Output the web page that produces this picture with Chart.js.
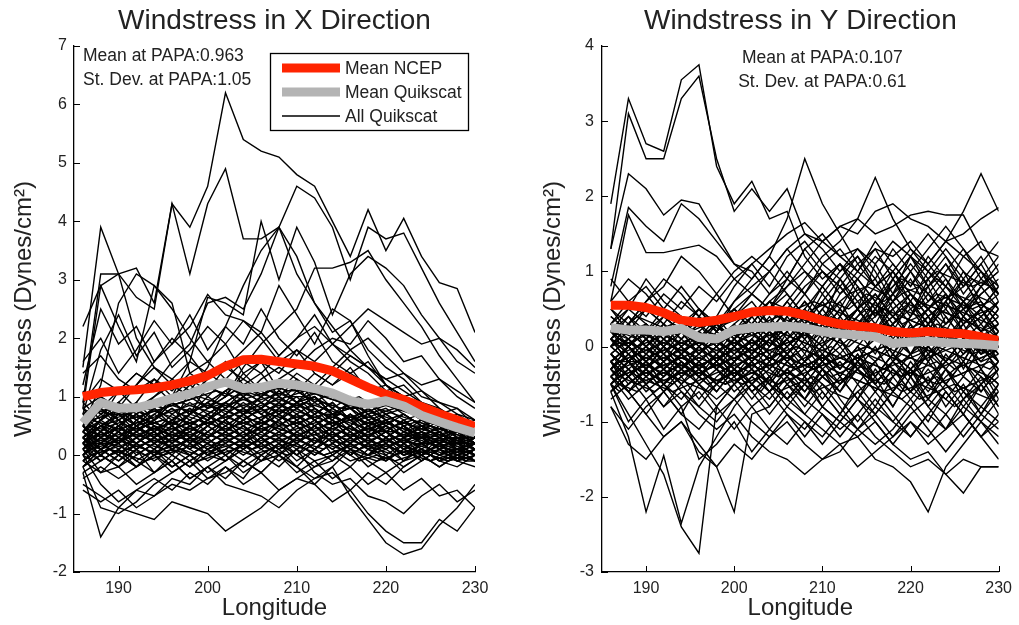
<!DOCTYPE html>
<html><head><meta charset="utf-8">
<script src="https://cdn.jsdelivr.net/npm/chart.js@4.4.0/dist/chart.umd.min.js"></script>
<style>
html,body{margin:0;padding:0;background:#fff;}
#wrap{position:relative;width:1019px;height:625px;background:#fff;}
#cA{position:absolute;left:0;top:0;width:510px;height:625px;}
#cB{position:absolute;left:510px;top:0;width:509px;height:625px;}
</style></head><body>
<div id="wrap"><canvas id="cA" width="510" height="625"></canvas><canvas id="cB" width="509" height="625"></canvas></div>
<script>
// ---------------- data ----------------
const LONGITUDE = [186,188,190,192,194,196,198,200,202,204,206,208,210,212,214,216,218,220,222,224,226,228,230];
const LONGITUDE_ODD = [186,187,189,191,193,195,197,199,201,203,205,207,209,211,213,215,217,219,221,223,225,227,229,230];
const X_TICKS = [190,200,210,220,230];
const XDIR_Y_TICKS = [-2,-1,0,1,2,3,4,5,6,7];
const YDIR_Y_TICKS = [-3,-2,-1,0,1,2,3,4];

const XDIR_NCEP_MEAN = [1.0,1.07,1.1,1.12,1.15,1.2,1.27,1.36,1.52,1.63,1.64,1.6,1.56,1.52,1.44,1.3,1.16,1.04,0.95,0.83,0.71,0.6,0.49];
const XDIR_QSCAT_MEAN = [0.55,0.9,0.8,0.81,0.88,0.97,1.05,1.17,1.25,1.14,1.16,1.23,1.2,1.14,1.06,0.93,0.87,0.93,0.84,0.68,0.57,0.47,0.38];
const YDIR_NCEP_MEAN = [0.55,0.55,0.52,0.45,0.35,0.32,0.35,0.4,0.46,0.48,0.47,0.42,0.35,0.3,0.27,0.25,0.2,0.18,0.2,0.18,0.17,0.13,0.08];
const YDIR_QSCAT_MEAN = [0.25,0.22,0.22,0.2,0.24,0.12,0.1,0.22,0.25,0.26,0.27,0.25,0.2,0.17,0.15,0.13,0.04,0.06,0.07,0.05,0.04,0.03,0.01];

const XDIR_NOTES = ['Mean at PAPA:0.963','St. Dev. at PAPA:1.05'];
const YDIR_NOTES = ['Mean at PAPA:0.107','St. Dev. at PAPA:0.61'];

// X direction, individual Quikscat passes (on LONGITUDE): high excursions
const XDIR_QSCAT_HIGH = [
[1.5,3.9,3.1,3.2,2.6,4.3,3.9,4.6,6.2,5.4,5.2,5.1,4.8,4.6,4.0,3.4,4.2,3.5,4.05,3.4,2.95,2.85,2.1],
[0.8,2.9,3.1,2.7,2.5,4.3,3.1,4.3,4.9,3.7,3.7,3.9,3.1,2.6,2.2,1.8,1.5,1.3,1.1,0.9,0.8,0.6,0.5],
[0.3,0.6,1.1,1.4,1.2,1.6,1.9,2.6,2.7,2.5,3.1,3.9,4.6,4.4,3.9,3.0,3.9,3.7,3.8,3.2,2.6,2.1,1.6],
[0.2,0.5,0.4,0.9,1.3,1.0,1.6,2.7,2.6,2.4,4.0,3.0,3.9,3.3,2.4,3.1,3.4,3.2,2.9,2.4,2.0,1.6,1.4],
[0.9,3.1,3.1,2.0,1.5,1.2,1.0,0.8,0.9,0.7,0.8,0.6,0.9,0.7,0.5,0.6,0.4,0.5,0.3,0.4,0.3,0.2,0.3],
[2.2,2.9,2.2,1.6,2.9,2.6,1.4,1.2,1.0,1.4,1.1,0.9,1.2,0.8,0.6,0.9,0.7,0.4,0.6,0.3,0.5,0.2,0.1],
[0.5,1.2,2.6,3.1,2.9,2.5,2.0,1.6,1.9,1.4,1.6,1.1,0.9,1.0,0.7,0.8,0.5,0.6,0.4,0.5,0.3,0.4,0.2],
[0.1,0.4,0.8,1.2,1.6,1.9,2.2,2.75,2.4,2.3,2.1,2.9,2.4,1.9,2.5,2.3,1.8,1.5,1.3,1.0,0.9,0.7,0.6],
[0.0,0.3,0.2,0.6,0.8,0.5,1.1,1.5,2.2,2.9,3.5,3.9,3.4,2.6,2.1,2.3,1.7,1.2,1.0,0.7,0.5,0.6,0.3],
[0.6,1.0,0.7,0.9,0.6,0.9,0.7,1.2,1.0,1.5,1.9,2.2,2.5,3.2,3.2,3.3,3.5,3.0,2.6,2.2,1.7,1.3,0.9],
[-0.2,0.1,0.3,0.2,0.5,0.4,0.7,0.6,0.9,1.1,1.0,1.3,1.5,1.8,2.0,1.9,2.3,2.0,1.6,1.7,1.3,1.1,0.9],
[0.4,0.2,0.5,0.8,0.6,1.0,1.3,1.1,1.5,1.8,2.1,1.7,2.0,2.4,1.9,2.2,2.5,2.3,2.1,1.9,2.0,1.8,1.5],
[1.2,2.5,1.9,2.2,1.6,2.0,1.7,1.3,1.6,1.2,1.4,1.0,1.3,0.9,1.1,0.8,0.9,0.6,0.7,0.5,0.6,0.4,0.3],
[0.7,1.8,2.4,1.7,2.1,1.5,1.8,2.2,1.9,2.3,2.0,1.6,1.8,1.4,1.2,1.5,1.1,1.2,0.9,0.8,0.6,0.7,0.5],
[1.6,2.0,1.4,1.8,2.3,1.9,2.4,1.8,2.2,1.9,2.5,2.0,1.7,2.1,1.6,1.4,1.6,1.2,1.0,1.1,0.8,0.6,0.4]
];
const XDIR_QSCAT_MID = [
[0.9,1.3,1.1,0.8,1.0,1.2,1.0,1.3,1.5,1.3,1.6,1.4,1.8,1.6,1.9,1.7,1.5,1.3,1.4,1.1,0.9,0.8,0.6],
[0.4,0.8,1.1,1.4,1.2,0.9,1.2,1.0,1.3,1.6,1.4,1.7,2.0,2.2,1.9,1.6,1.4,1.1,1.2,0.9,0.7,0.8,0.5],
[1.1,0.7,0.9,1.2,1.5,1.3,1.1,0.8,1.1,1.3,1.1,1.3,1.1,1.4,1.2,1.4,1.2,1.0,0.8,0.6,0.7,0.5,0.4],
[0.3,0.6,0.9,0.7,1.0,1.3,1.6,1.4,1.2,1.0,1.3,1.5,1.3,1.1,1.4,1.7,1.5,1.2,1.0,0.9,0.7,0.5,0.6],
[1.4,1.7,1.3,1.1,1.3,1.1,1.4,1.6,1.3,1.0,0.8,1.1,1.4,1.2,1.5,1.8,2.0,1.7,1.4,1.2,1.3,1.0,0.8]
];
const XDIR_QSCAT_LOW = [
[0.2,-0.1,0.1,-0.2,0.0,-0.3,-0.1,-0.4,-0.2,-0.5,-0.3,-0.6,-0.4,-0.5,-0.2,-0.7,-1.1,-1.5,-1.7,-1.6,-1.2,-0.9,-0.5],
[0.1,-0.3,-0.2,-0.5,-0.3,-0.1,-0.4,-0.2,0.0,-0.3,-0.1,0.1,-0.2,-0.4,-0.3,-0.6,-1.0,-1.3,-1.5,-1.5,-1.1,-1.3,-0.9],
[-0.5,-0.7,-0.9,-1.0,-1.1,-0.8,-0.9,-1.0,-1.3,-1.1,-0.9,-0.6,-0.4,-0.2,0.0,-0.2,0.1,-0.1,0.2,0.0,0.3,0.1,0.2],
[-0.3,-1.4,-0.9,-0.6,-0.7,-0.4,-0.5,-0.2,-0.4,-0.1,-0.3,0.0,-0.2,0.1,-0.1,0.2,0.0,0.1,-0.1,0.2,0.0,0.1,-0.1],
[0.3,0.0,-0.2,0.1,-0.3,-0.1,-0.4,-0.2,-0.5,-0.6,-0.7,-0.9,-0.6,-0.4,-0.2,0.1,-0.2,0.0,-0.3,-0.1,0.1,-0.1,0.0],
[0.0,-0.5,-0.8,-0.6,-0.4,-0.6,-0.3,-0.5,-0.2,-0.4,0.0,-0.2,0.1,-0.3,-0.5,-0.4,-0.7,-0.8,-1.0,-0.7,-0.5,-0.8,-0.6],
[0.4,0.1,0.2,-0.1,0.1,-0.2,0.0,-0.3,-0.1,0.2,-0.1,0.0,-0.3,-0.1,-0.4,-0.2,-0.5,-0.3,-0.6,-0.4,-0.7,-0.6,-0.9],
[-0.2,-0.9,-1.0,-0.8,-0.5,-0.3,-0.1,0.1,-0.1,0.1,0.3,0.1,0.3,0.1,0.3,0.1,0.0,0.2,0.0,0.1,-0.1,0.0,0.1],
[-0.6,-0.8,-0.6,-0.9,-0.7,-0.5,-0.6,-0.4,-0.3,-0.1,-0.3,0.0,-0.2,-0.5,-0.8,-0.6,-0.3,-0.5,-0.2,0.0,-0.2,0.0,-0.1]
];
const XDIR_QSCAT_CORE = [
[0.3,0.5,0.2,0.4,0.6,0.3,0.5,0.7,0.4,0.6,0.8,0.5,0.7,0.4,0.6,0.3,0.5,0.2,0.4,0.3,0.1,0.3,0.2],
[0.0,0.2,0.4,0.1,0.3,0.5,0.2,0.4,0.6,0.3,0.5,0.7,0.4,0.6,0.3,0.5,0.2,0.4,0.1,0.3,0.2,0.0,0.1],
[0.6,0.4,0.7,0.5,0.3,0.6,0.8,0.6,0.9,0.7,1.0,0.8,1.1,0.9,0.7,0.8,0.6,0.7,0.5,0.6,0.4,0.5,0.3],
[-0.2,0.1,-0.1,0.2,0.0,0.1,0.3,0.0,0.2,0.4,0.1,0.3,0.5,0.2,0.4,0.1,0.3,0.0,0.2,-0.1,0.1,0.0,-0.1],
[0.8,0.5,0.6,0.3,0.5,0.2,0.4,0.6,0.8,1.0,0.7,0.9,0.6,0.8,0.5,0.7,0.4,0.6,0.3,0.4,0.2,0.3,0.1],
[0.2,0.0,0.3,0.6,0.4,0.7,0.5,0.3,0.5,0.7,0.9,1.1,0.9,1.0,0.8,0.6,0.7,0.5,0.3,0.5,0.4,0.2,0.0],
[0.4,0.7,0.9,0.6,0.8,0.5,0.7,0.9,1.1,0.8,0.6,0.8,1.0,0.7,0.9,0.6,0.4,0.6,0.7,0.5,0.3,0.4,0.2],
[-0.1,-0.3,0.0,-0.2,0.1,-0.1,0.2,0.0,-0.1,0.1,0.3,0.1,0.2,0.0,0.2,0.4,0.1,0.2,0.0,0.1,-0.1,0.0,0.1],
[0.5,0.2,0.0,0.3,0.1,0.4,0.2,0.5,0.7,0.5,0.3,0.6,0.8,1.0,0.7,0.5,0.8,0.6,0.4,0.6,0.5,0.3,0.4],
[0.1,0.3,0.6,0.8,0.5,0.3,0.1,0.3,0.0,0.2,0.5,0.3,0.0,0.2,0.5,0.7,0.5,0.3,0.5,0.2,0.0,0.2,0.3],
[0.7,0.9,0.6,0.4,0.7,0.9,0.7,1.0,0.8,1.1,0.9,0.7,0.9,1.2,1.0,0.8,0.9,0.7,0.8,0.6,0.5,0.6,0.4],
[-0.3,-0.1,0.1,-0.1,-0.3,0.0,-0.2,0.1,0.3,0.1,-0.1,0.2,0.0,0.3,0.1,-0.1,0.0,0.2,-0.1,0.0,0.2,-0.1,-0.2],
[0.3,0.1,0.4,0.2,0.0,0.2,0.5,0.3,0.6,0.4,0.2,0.4,0.2,0.5,0.7,0.4,0.2,0.4,0.2,0.4,0.1,0.3,0.1],
[0.0,0.4,0.2,0.5,0.7,0.5,0.2,0.0,0.3,0.5,0.2,0.0,0.3,0.1,0.4,0.2,0.5,0.3,0.0,0.2,0.4,0.1,0.0],
[0.9,0.6,0.8,0.5,0.6,0.8,0.6,0.8,1.0,1.2,1.0,1.2,0.9,1.1,0.8,1.0,0.7,0.8,0.6,0.7,0.5,0.4,0.3],
[0.2,0.5,0.3,0.0,0.2,0.4,0.6,0.4,0.2,0.4,0.6,0.4,0.6,0.3,0.1,0.3,0.5,0.3,0.5,0.3,0.2,0.4,0.2],
[-0.1,0.2,0.5,0.3,0.4,0.1,0.3,0.2,0.4,0.2,0.4,0.6,0.3,0.5,0.2,0.0,0.2,0.1,0.3,0.0,0.1,-0.1,0.0],
[0.6,0.3,0.5,0.7,0.5,0.3,0.4,0.6,0.4,0.7,0.5,0.8,0.6,0.4,0.6,0.4,0.6,0.4,0.2,0.3,0.5,0.3,0.1],
[0.4,0.1,-0.1,0.1,0.3,0.5,0.3,0.1,0.2,0.0,0.2,0.4,0.2,0.4,0.0,0.2,0.0,0.3,0.1,-0.1,0.1,0.2,0.0],
[0.1,0.3,0.1,0.3,0.1,0.3,0.1,0.4,0.6,0.8,0.6,0.4,0.6,0.8,0.6,0.3,0.5,0.3,0.1,0.3,0.1,0.3,0.1],
[0.5,0.8,0.6,0.8,0.9,0.7,0.9,0.7,0.5,0.7,0.9,0.7,0.5,0.7,0.9,0.6,0.8,0.5,0.7,0.5,0.6,0.3,0.2],
[-0.2,0.0,-0.2,0.0,0.2,0.0,-0.2,0.0,0.1,-0.1,0.1,-0.1,0.1,-0.1,0.0,0.2,0.0,-0.1,0.1,0.0,-0.2,0.0,-0.1],
[0.2,0.6,0.8,0.5,0.2,0.4,0.7,0.9,0.6,0.3,0.5,0.7,0.9,0.6,0.3,0.5,0.7,0.4,0.6,0.4,0.2,0.5,0.3],
[0.3,0.0,0.2,0.4,0.2,0.0,0.3,0.5,0.3,0.5,0.3,0.1,0.4,0.2,0.5,0.3,0.1,0.3,0.5,0.2,0.3,0.1,0.2],
[0.7,0.4,0.2,0.5,0.8,0.6,0.3,0.6,0.8,0.6,0.8,1.0,0.8,0.6,0.8,0.6,0.3,0.5,0.3,0.5,0.3,0.2,0.4],
[0.0,0.2,0.0,-0.2,0.0,0.3,0.1,-0.1,0.1,0.3,0.1,0.3,0.1,0.3,0.1,0.3,0.1,0.0,-0.2,0.0,0.2,0.0,0.2],
[0.4,0.6,0.4,0.2,0.4,0.6,0.8,0.5,0.7,0.9,0.7,0.5,0.7,0.5,0.3,0.5,0.3,0.5,0.3,0.1,0.3,0.5,0.3],
[0.2,0.1,0.3,0.5,0.3,0.1,0.0,0.2,0.4,0.2,0.0,0.2,0.4,0.6,0.4,0.2,0.4,0.2,0.0,0.1,0.0,0.1,0.0],
[0.8,1.0,0.8,0.6,0.4,0.6,0.4,0.2,0.4,0.6,0.4,0.6,0.8,0.6,0.4,0.7,0.5,0.7,0.5,0.3,0.4,0.2,0.3],
[0.1,-0.1,0.1,0.3,0.5,0.2,0.0,0.2,0.0,0.2,0.4,0.2,-0.1,0.1,0.3,0.0,0.2,-0.1,0.1,0.2,0.0,-0.1,0.1],
[0.3,0.5,0.7,0.4,0.6,0.8,0.5,0.3,0.5,0.3,0.6,0.9,0.7,0.9,1.1,0.9,0.6,0.4,0.2,0.4,0.2,0.1,0.2],
[-0.4,-0.2,-0.4,-0.2,0.0,-0.2,0.0,0.2,0.0,-0.2,0.0,0.2,0.0,-0.2,-0.1,0.1,-0.1,-0.3,-0.1,0.1,-0.1,-0.2,0.0],
[0.5,0.3,0.5,0.2,0.4,0.2,0.5,0.7,0.9,0.7,0.4,0.6,0.3,0.5,0.7,0.5,0.3,0.6,0.4,0.2,0.4,0.2,0.1],
[0.6,0.8,0.5,0.7,0.4,0.1,0.3,0.1,0.3,0.1,0.3,0.5,0.3,0.1,0.3,0.5,0.3,0.1,0.3,0.1,-0.1,0.1,0.3],
[0.2,0.4,0.2,0.4,0.6,0.9,0.7,0.9,0.7,1.0,1.2,1.0,0.8,1.0,0.7,0.9,0.6,0.4,0.6,0.4,0.6,0.4,0.2],
[-0.1,0.1,0.3,0.1,-0.1,0.1,-0.1,0.1,0.3,0.1,0.3,0.0,0.2,0.0,0.2,0.0,0.2,0.4,0.2,0.0,0.2,0.1,-0.1]
];
// X direction: further core passes sampled on LONGITUDE_ODD
const XDIR_QSCAT_CORE_ODD = [
[0.6,0.7,0.8,0.6,0.7,0.8,0.9,1.0,1.1,1.0,0.9,1.1,1.0,1.0,0.9,0.8,0.8,0.7,0.8,0.6,0.5,0.4,0.4,0.3],
[0.4,0.5,0.3,0.5,0.6,0.5,0.7,0.8,0.7,0.9,1.0,0.8,0.9,0.8,0.7,0.7,0.6,0.5,0.6,0.5,0.4,0.3,0.3,0.2],
[0.1,0.2,0.3,0.2,0.1,0.3,0.4,0.3,0.5,0.4,0.6,0.5,0.4,0.5,0.3,0.4,0.3,0.2,0.3,0.2,0.2,0.1,0.0,0.1],
[0.7,0.8,0.6,0.7,0.6,0.7,0.6,0.8,0.9,0.8,0.7,0.9,1.0,1.1,1.0,0.9,0.7,0.8,0.6,0.5,0.5,0.4,0.3,0.3],
[0.2,0.0,0.1,0.0,0.2,0.1,0.2,0.3,0.2,0.3,0.4,0.3,0.2,0.3,0.2,0.1,0.2,0.1,0.0,0.1,0.0,-0.1,0.0,-0.1],
[0.5,0.4,0.6,0.4,0.3,0.4,0.5,0.6,0.5,0.7,0.6,0.7,0.6,0.7,0.5,0.6,0.5,0.4,0.5,0.4,0.3,0.2,0.3,0.2],
[0.3,0.4,0.2,0.3,0.5,0.4,0.3,0.5,0.6,0.5,0.7,0.8,0.7,0.6,0.7,0.5,0.4,0.5,0.3,0.4,0.2,0.3,0.2,0.1],
[0.0,0.1,-0.1,0.1,0.0,0.1,0.2,0.1,0.2,0.1,0.2,0.1,0.2,0.1,0.3,0.2,0.1,0.2,0.1,0.0,0.1,0.0,0.1,0.0],
[0.8,0.7,0.9,0.8,0.7,0.8,0.9,0.8,1.0,1.2,1.1,1.0,1.1,1.2,1.0,0.9,1.0,0.8,0.7,0.6,0.5,0.4,0.4,0.3],
[0.4,0.3,0.4,0.2,0.4,0.3,0.2,0.4,0.3,0.2,0.3,0.5,0.4,0.3,0.4,0.3,0.4,0.3,0.2,0.3,0.1,0.2,0.1,0.0],
[0.2,0.3,0.5,0.4,0.5,0.6,0.5,0.6,0.8,0.7,0.8,0.6,0.8,0.7,0.6,0.7,0.5,0.6,0.4,0.3,0.4,0.3,0.2,0.2],
[-0.1,0.0,0.1,0.2,0.1,0.0,0.1,0.0,0.1,0.2,0.1,0.3,0.2,0.1,0.0,0.1,0.0,-0.1,0.0,0.1,0.0,-0.1,0.0,0.1],
[0.6,0.5,0.4,0.5,0.4,0.5,0.6,0.5,0.7,0.6,0.5,0.6,0.5,0.6,0.8,0.7,0.6,0.7,0.5,0.4,0.3,0.4,0.3,0.2],
[0.3,0.2,0.2,0.4,0.3,0.2,0.3,0.2,0.4,0.3,0.5,0.4,0.6,0.4,0.5,0.4,0.2,0.3,0.2,0.1,0.2,0.1,0.1,0.0],
[0.5,0.6,0.7,0.5,0.6,0.5,0.7,0.6,0.8,0.9,0.8,0.9,0.8,0.9,0.8,0.6,0.7,0.6,0.5,0.6,0.4,0.5,0.3,0.4],
[0.1,0.2,0.0,0.1,0.3,0.2,0.1,0.2,0.0,0.2,0.1,0.2,0.3,0.2,0.1,0.3,0.2,0.1,0.2,0.1,-0.1,0.0,-0.1,0.0],
[0.7,0.6,0.5,0.6,0.8,0.7,0.8,0.7,0.6,0.8,0.9,1.0,0.9,0.8,0.9,0.8,0.9,0.7,0.6,0.5,0.4,0.3,0.3,0.2],
[0.2,0.4,0.3,0.4,0.2,0.3,0.4,0.6,0.4,0.5,0.4,0.5,0.5,0.6,0.4,0.5,0.3,0.4,0.4,0.3,0.3,0.2,0.2,0.1],
[0.4,0.6,0.5,0.3,0.5,0.6,0.5,0.4,0.6,0.7,0.9,0.7,0.8,0.9,0.7,0.6,0.6,0.5,0.6,0.4,0.5,0.3,0.2,0.3],
[0.0,-0.1,0.1,0.0,-0.1,0.0,0.1,-0.1,0.0,0.1,0.0,0.1,0.0,0.2,0.0,0.1,-0.1,0.0,-0.1,0.0,-0.1,0.1,-0.1,-0.1],
[0.6,0.8,0.7,0.8,0.9,0.8,0.9,1.0,0.9,1.1,1.0,1.1,1.2,1.0,1.1,0.9,0.8,0.9,0.8,0.7,0.6,0.5,0.4,0.4],
[0.3,0.1,0.2,0.3,0.4,0.2,0.3,0.4,0.3,0.4,0.2,0.3,0.4,0.3,0.2,0.4,0.3,0.2,0.3,0.2,0.1,0.2,0.1,0.2],
[0.5,0.3,0.4,0.6,0.4,0.5,0.4,0.5,0.6,0.5,0.6,0.7,0.6,0.5,0.6,0.5,0.4,0.5,0.3,0.4,0.2,0.3,0.2,0.3],
[0.1,0.3,0.2,0.1,0.2,0.4,0.3,0.2,0.4,0.3,0.2,0.4,0.3,0.4,0.3,0.2,0.3,0.4,0.2,0.3,0.2,0.0,0.1,0.0],
[0.8,0.6,0.7,0.7,0.8,0.9,0.8,0.9,0.8,1.0,1.1,1.2,1.1,1.1,1.0,1.0,0.9,0.8,0.9,0.7,0.6,0.5,0.5,0.4]
];

// Y direction: high excursions
const YDIR_QSCAT_HIGH = [
[1.9,3.3,2.7,2.6,3.55,3.75,2.4,1.9,2.2,1.7,1.8,1.2,0.9,1.1,0.7,0.9,0.5,0.7,0.4,0.6,0.3,0.5,0.2],
[1.3,3.1,2.5,2.5,3.3,3.6,2.5,1.8,2.1,1.8,2.1,1.5,1.3,1.0,1.2,0.8,0.6,0.9,0.5,0.3,0.5,0.2,0.4],
[1.3,2.3,2.1,1.75,1.95,1.9,1.5,1.1,1.0,0.7,0.9,1.3,1.5,1.2,1.0,0.8,1.0,0.7,0.5,0.8,0.6,0.4,0.6],
[0.8,1.85,1.6,1.4,1.9,1.7,1.4,1.1,0.9,1.2,0.9,0.7,1.0,0.8,0.5,0.7,0.4,0.6,0.3,0.5,0.2,0.4,0.1],
[0.6,1.75,1.25,1.25,1.3,1.35,1.2,0.9,0.7,0.5,0.7,0.4,0.6,0.3,0.5,0.2,0.4,0.1,0.3,0.0,0.2,-0.1,0.1],
[0.1,-0.2,0.0,0.3,0.1,0.4,0.2,0.6,0.9,1.2,1.7,2.5,1.9,1.5,1.1,0.8,1.0,0.7,0.5,0.7,0.4,0.2,0.3],
[-0.3,0.0,-0.2,0.1,-0.1,0.2,0.0,0.3,0.5,0.3,0.6,0.9,1.2,1.4,1.7,2.25,1.7,1.3,1.0,0.8,0.5,0.6,0.3],
[0.2,0.0,0.3,0.1,-0.1,0.1,0.3,0.1,0.4,0.6,0.5,0.8,1.0,0.8,1.1,1.3,1.2,1.4,1.1,1.4,1.8,2.3,1.8],
[0.0,0.3,0.1,0.4,0.2,0.5,0.3,0.6,0.8,1.0,1.3,1.5,1.4,1.6,1.7,1.5,1.6,1.75,1.8,1.75,1.75,1.3,1.2],
[0.4,0.2,0.5,0.3,0.6,0.4,0.2,0.5,0.3,0.6,0.8,1.1,1.4,1.6,1.5,1.8,1.9,1.7,1.6,1.4,1.2,1.0,0.8],
[0.3,0.6,0.4,0.7,0.5,0.8,0.6,0.9,1.1,1.3,1.5,1.65,1.4,1.2,1.3,1.1,1.4,1.2,1.0,1.3,1.0,0.8,1.0],
[0.1,0.4,0.2,0.5,0.3,0.1,0.3,0.5,0.7,0.5,0.8,1.0,0.8,1.1,0.9,1.2,1.0,1.3,1.1,1.4,1.5,1.7,1.85]
];
const YDIR_QSCAT_UPPER = [
[0.2,0.5,0.9,0.6,0.4,0.1,0.4,0.8,1.1,0.8,1.2,1.4,1.1,0.9,1.2,0.9,1.3,1.0,1.3,1.6,1.3,1.0,0.7],
[0.6,0.9,0.7,0.4,0.2,0.5,0.3,0.1,0.4,0.7,1.0,0.7,1.1,1.3,1.0,1.4,1.1,0.8,1.1,0.8,1.2,1.4,1.0],
[0.9,0.6,0.8,0.5,0.8,0.5,0.2,0.5,0.2,0.5,0.9,1.3,1.0,0.7,1.0,1.3,0.9,1.2,1.5,1.2,0.9,1.2,0.8],
[0.0,0.3,0.6,0.9,0.7,0.4,0.7,0.4,0.7,1.0,1.3,1.0,0.7,1.0,1.3,1.0,0.6,1.0,0.7,1.0,1.3,0.9,1.2],
[0.5,0.3,0.6,0.8,1.2,1.0,0.7,1.0,1.2,1.0,0.7,0.4,0.8,1.1,0.8,0.5,0.8,1.1,0.8,1.1,0.8,1.1,1.4]
];
const YDIR_QSCAT_LOW = [
[-0.5,-0.9,-1.3,-1.7,-2.4,-2.75,-0.8,-0.5,-0.3,-0.5,-0.2,-0.4,-0.1,-0.3,0.0,-0.2,0.1,-0.1,0.0,0.2,-0.1,0.1,-0.2],
[-0.6,-1.2,-2.2,-1.45,-2.35,-1.6,-1.2,-0.8,-0.5,-0.7,-0.4,-0.6,-0.3,-0.5,-0.2,-0.4,-0.1,-0.3,0.0,-0.2,0.1,-0.1,0.0],
[-0.3,-0.6,-0.9,-1.2,-1.0,-1.4,-1.6,-2.2,-0.9,-0.8,-0.5,-0.7,-0.4,-0.6,-0.3,-0.5,-0.2,-0.4,-0.1,-0.3,0.0,-0.2,-0.1],
[-0.2,0.0,-0.3,-0.1,-0.4,-0.2,-0.5,-0.3,-0.6,-0.4,-0.7,-0.9,-1.1,-1.3,-1.2,-1.5,-1.6,-1.8,-2.2,-1.6,-1.3,-1.0,-1.2],
[0.1,-0.2,0.0,-0.3,-0.1,-0.4,-0.2,-0.5,-0.3,-0.6,-0.4,-0.7,-0.9,-1.1,-0.9,-1.2,-1.4,-1.6,-1.5,-1.7,-1.95,-1.6,-1.6],
[-0.4,-0.7,-0.5,-0.8,-0.6,-0.9,-1.1,-0.9,-1.2,-1.4,-1.5,-1.7,-1.5,-1.4,-1.1,-0.9,-1.2,-0.9,-0.7,-0.9,-0.6,-0.8,-0.5],
[0.2,-0.1,0.1,-0.2,0.0,-0.3,-0.1,-0.4,-0.2,-0.5,-0.7,-0.5,-0.8,-1.0,-1.2,-1.0,-1.3,-1.5,-1.4,-1.7,-1.5,-1.6,-1.6],
[-0.6,-0.4,-0.7,-0.5,-0.8,-0.6,-0.9,-0.7,-1.0,-1.2,-1.0,-1.3,-1.5,-1.3,-1.6,-1.4,-1.2,-1.0,-1.3,-1.1,-0.9,-1.2,-1.0],
[-0.8,-1.3,-1.5,-1.2,-1.0,-1.3,-1.6,-1.3,-1.5,-1.2,-0.9,-1.1,-0.8,-1.0,-0.7,-0.9,-0.6,-0.8,-0.5,-0.7,-0.4,-0.6,-0.3],
[-0.5,-1.0,-0.7,-1.1,-0.8,-1.5,-1.3,-1.0,-1.4,-1.1,-1.3,-1.0,-1.2,-0.9,-1.1,-0.8,-1.0,-1.2,-0.9,-1.1,-0.8,-1.0,-1.3],
[-0.3,-0.6,-0.9,-0.6,-0.9,-0.5,-0.8,-0.5,-0.8,-1.1,-0.8,-1.0,-1.3,-1.0,-0.7,-1.0,-1.3,-1.0,-1.2,-0.9,-1.2,-0.9,-1.1],
[-0.8,-1.1,-0.8,-0.6,-0.9,-1.1,-0.8,-1.1,-0.8,-0.6,-0.9,-1.2,-0.9,-1.2,-0.9,-0.6,-0.9,-1.2,-0.9,-0.6,-0.9,-1.2,-1.5],
[-0.4,-0.2,-0.5,-0.8,-0.5,-0.8,-1.0,-0.7,-0.5,-0.8,-0.5,-0.8,-0.5,-0.8,-1.1,-1.3,-1.1,-0.8,-1.1,-1.4,-1.1,-0.8,-1.0]
];
const YDIR_QSCAT_CORE = [
[0.0,-0.2,0.1,-0.1,0.2,0.0,-0.2,0.1,0.3,0.0,0.2,-0.1,0.3,0.6,0.2,0.5,0.1,0.4,0.8,0.3,0.6,0.2,0.5],
[-0.3,-0.1,-0.4,-0.2,0.0,-0.3,-0.5,-0.2,0.0,-0.3,-0.1,0.2,-0.2,0.1,-0.3,0.0,-0.4,-0.1,-0.5,-0.2,0.1,-0.3,-0.6],
[0.2,0.4,0.1,0.3,0.0,0.2,0.4,0.1,-0.1,0.2,0.5,0.2,0.0,0.4,0.8,0.4,0.9,0.5,0.2,0.6,1.0,0.6,0.3],
[-0.5,-0.3,-0.6,-0.4,-0.2,-0.5,-0.3,-0.6,-0.4,-0.1,-0.4,-0.7,-0.3,-0.6,-0.2,-0.5,-0.8,-0.4,-0.7,-0.3,-0.6,-0.9,-0.5],
[0.1,-0.1,-0.3,0.0,0.2,-0.1,0.1,0.3,0.0,0.3,0.6,0.3,0.7,0.4,0.1,0.5,0.9,0.6,1.0,0.7,0.4,0.8,0.5],
[-0.2,0.0,0.2,-0.1,-0.3,-0.1,0.1,-0.2,0.1,0.4,0.1,-0.2,0.1,-0.3,0.0,-0.4,-0.1,0.3,-0.1,-0.5,-0.2,0.2,-0.2],
[0.3,0.1,-0.1,0.2,0.4,0.1,-0.2,0.0,0.2,0.5,0.3,0.6,0.3,0.9,0.5,1.1,0.7,1.2,0.8,1.1,0.7,1.0,0.6],
[-0.6,-0.4,-0.2,-0.5,-0.7,-0.4,-0.6,-0.3,-0.5,-0.2,-0.5,-0.3,-0.6,-0.9,-0.5,-0.8,-0.4,-0.7,-1.0,-0.6,-0.9,-0.5,-0.8],
[0.0,0.2,0.0,0.2,-0.1,0.1,0.3,0.5,0.2,0.0,0.3,0.1,0.4,0.2,0.5,0.2,0.6,0.3,0.0,0.4,0.1,-0.2,0.1],
[-0.1,-0.4,-0.2,-0.5,-0.3,-0.1,-0.3,-0.1,-0.3,-0.6,-0.3,-0.5,-0.2,0.1,-0.2,0.2,-0.1,-0.4,0.0,-0.3,-0.7,-0.4,-0.8],
[0.4,0.2,0.3,0.1,0.3,0.5,0.2,0.4,0.6,0.3,0.0,0.3,0.6,0.9,0.6,0.3,0.7,1.0,0.6,0.9,0.5,0.8,1.1],
[-0.2,-0.5,-0.3,-0.6,-0.4,-0.7,-0.4,-0.2,-0.5,-0.3,0.0,-0.3,-0.1,-0.4,-0.7,-0.3,-0.6,-0.2,-0.5,-0.1,-0.4,0.0,-0.3],
[0.1,0.3,0.0,-0.2,0.1,0.3,0.0,0.2,0.4,0.1,0.4,0.7,0.4,0.1,0.3,0.6,0.2,-0.1,0.3,0.0,0.4,0.1,-0.1],
[-0.4,-0.1,-0.3,0.0,-0.2,-0.4,-0.1,-0.4,-0.2,-0.5,-0.2,0.0,-0.3,-0.1,0.2,-0.1,0.3,-0.1,0.2,-0.2,0.1,-0.3,0.0],
[0.2,0.0,-0.2,-0.4,-0.1,-0.3,-0.5,-0.2,0.1,-0.2,0.2,0.5,0.8,0.5,0.9,0.6,0.3,0.6,0.3,0.7,0.3,0.5,0.2],
[-0.3,-0.6,-0.4,-0.2,-0.5,-0.2,0.0,-0.3,-0.6,-0.4,-0.7,-0.4,-0.8,-0.5,-0.3,-0.6,-0.3,-0.6,-0.2,-0.5,-0.8,-0.5,-0.9],
[0.1,0.0,0.2,0.4,0.2,-0.1,0.2,0.0,-0.2,0.1,-0.1,0.2,0.5,0.2,0.5,0.8,1.1,0.8,1.2,0.9,0.6,0.9,0.7],
[-0.1,0.1,-0.2,0.0,-0.3,0.0,-0.2,0.0,0.2,-0.1,-0.4,-0.1,-0.4,-0.2,-0.5,-0.2,-0.6,-0.3,-0.7,-0.4,-0.2,-0.6,-0.3],
[0.3,0.0,0.2,0.0,0.3,0.1,0.3,0.0,0.3,0.6,0.3,0.5,0.2,0.5,0.2,0.5,0.2,0.6,0.3,0.6,0.9,0.5,0.8],
[-0.5,-0.2,-0.5,-0.3,-0.6,-0.8,-0.5,-0.7,-0.4,-0.6,-0.3,-0.6,-0.3,-0.7,-1.0,-0.7,-1.0,-0.7,-0.4,-0.8,-0.5,-0.9,-0.6],
[0.0,0.3,0.1,-0.1,0.1,-0.1,0.1,-0.1,0.1,-0.1,0.1,0.4,0.1,0.4,0.7,0.4,0.7,0.4,0.7,0.4,0.1,0.3,0.0],
[-0.2,-0.4,-0.1,-0.3,-0.1,-0.3,-0.1,-0.4,-0.1,-0.4,-0.1,-0.4,-0.1,-0.4,-0.1,-0.5,-0.2,0.1,-0.2,0.1,-0.2,0.2,-0.1],
[0.5,0.2,0.0,0.2,0.0,0.2,0.0,0.2,0.5,0.2,0.5,0.2,0.5,0.8,0.5,0.2,-0.1,0.2,0.5,0.2,0.6,0.3,0.6],
[-0.7,-0.5,-0.3,-0.6,-0.3,-0.5,-0.7,-0.5,-0.2,-0.5,-0.8,-0.5,-0.2,-0.5,-0.2,-0.5,-0.2,-0.5,-0.8,-1.1,-0.7,-1.0,-0.7],
[0.1,-0.2,0.0,-0.2,0.0,-0.2,0.0,-0.2,0.0,0.2,0.0,0.2,0.0,-0.3,0.0,0.3,0.0,0.4,0.9,0.5,0.9,0.5,0.8],
[-0.3,0.0,-0.3,0.0,-0.3,0.0,-0.3,0.0,-0.3,0.0,0.3,0.0,0.3,0.0,-0.3,-0.6,-0.3,-0.6,-0.3,-0.6,-0.9,-1.2,-0.9],
[0.2,0.1,0.3,0.1,0.3,0.1,-0.1,0.1,-0.1,0.1,0.3,0.6,0.3,0.7,0.9,0.6,0.9,1.2,0.9,1.2,0.8,1.1,0.7],
[-0.1,-0.3,-0.5,-0.3,-0.5,-0.3,-0.1,-0.3,-0.1,0.2,-0.1,0.2,-0.1,0.2,0.5,0.2,0.5,0.1,0.4,0.0,0.3,-0.1,0.2],
[0.0,0.1,-0.1,0.1,-0.1,0.1,-0.1,0.2,-0.1,0.2,-0.1,-0.4,-0.1,-0.4,-0.1,-0.4,-0.8,-0.4,-0.8,-0.5,-0.2,-0.5,-0.2],
[-0.4,-0.6,-0.3,-0.5,-0.2,-0.4,-0.2,-0.4,-0.7,-0.4,-0.7,-0.4,-0.7,-0.4,-0.7,-0.4,-0.1,-0.4,-0.1,0.2,-0.1,0.2,0.5],
[0.3,0.5,0.3,0.0,0.3,0.0,0.3,0.0,0.3,0.0,0.4,0.1,0.4,0.1,0.4,0.7,0.4,0.7,0.4,0.1,0.4,0.7,0.9],
[-0.2,0.0,-0.2,-0.4,-0.2,-0.4,-0.2,0.1,-0.2,0.1,-0.2,0.1,-0.2,0.1,-0.2,0.2,-0.2,0.2,-0.2,0.2,-0.3,0.1,-0.4],
[0.1,0.3,0.5,0.3,0.1,0.3,0.1,-0.1,0.1,-0.2,0.1,-0.2,0.2,0.5,0.2,0.6,1.0,0.6,0.2,0.6,0.2,0.5,0.1],
[-0.6,-0.3,-0.1,-0.3,-0.1,-0.3,-0.6,-0.3,-0.6,-0.9,-0.6,-0.9,-0.6,-0.9,-0.6,-0.9,-0.6,-0.3,-0.6,-0.3,-0.6,-0.3,-0.7]
];
// Y direction: further core passes sampled on LONGITUDE_ODD
const YDIR_QSCAT_CORE_ODD = [
[-0.1,-0.2,-0.1,0.0,-0.2,-0.1,-0.3,-0.2,-0.1,0.0,-0.1,0.1,0.0,0.1,0.2,0.1,0.3,0.2,0.1,0.3,0.2,0.4,0.3,0.2],
[-0.4,-0.3,-0.5,-0.4,-0.3,-0.4,-0.2,-0.3,-0.4,-0.3,-0.2,-0.3,-0.1,-0.2,-0.3,-0.1,-0.2,-0.4,-0.3,-0.2,-0.4,-0.3,-0.2,-0.3],
[0.1,0.0,0.1,-0.1,0.0,0.1,0.0,-0.1,0.1,0.2,0.1,0.3,0.2,0.4,0.3,0.5,0.4,0.6,0.5,0.7,0.6,0.5,0.6,0.7],
[-0.2,-0.1,-0.3,-0.2,-0.1,-0.2,-0.4,-0.3,-0.2,-0.1,-0.2,0.0,-0.1,0.0,-0.2,-0.1,0.0,0.1,0.0,-0.1,0.1,0.0,-0.1,0.0],
[-0.5,-0.6,-0.4,-0.5,-0.6,-0.5,-0.4,-0.5,-0.3,-0.4,-0.5,-0.4,-0.6,-0.5,-0.4,-0.5,-0.6,-0.5,-0.7,-0.6,-0.5,-0.6,-0.4,-0.5],
[0.0,0.1,-0.1,0.0,0.1,0.0,-0.1,0.0,0.1,0.0,0.2,0.1,0.3,0.2,0.4,0.6,0.5,0.7,0.8,0.6,0.7,0.9,0.8,0.7],
[-0.3,-0.2,-0.2,-0.3,-0.1,-0.2,-0.3,-0.1,0.0,-0.1,0.0,-0.2,-0.1,0.1,0.0,0.2,0.1,0.0,0.2,0.1,0.0,0.2,0.1,0.0],
[0.2,0.3,0.2,0.1,0.3,0.2,0.1,0.2,0.3,0.2,0.3,0.2,0.4,0.3,0.2,0.4,0.5,0.3,0.4,0.6,0.5,0.4,0.5,0.4],
[-0.6,-0.5,-0.6,-0.4,-0.5,-0.3,-0.4,-0.5,-0.4,-0.6,-0.3,-0.4,-0.3,-0.5,-0.4,-0.2,-0.3,-0.4,-0.2,-0.3,-0.1,-0.2,-0.3,-0.2],
[-0.1,0.0,-0.2,-0.1,0.0,-0.1,0.0,0.1,0.0,-0.1,0.0,0.1,0.0,-0.1,0.1,0.0,0.2,0.4,0.3,0.5,0.4,0.3,0.5,0.4],
[-0.3,-0.4,-0.3,-0.5,-0.4,-0.3,-0.5,-0.4,-0.2,-0.3,-0.4,-0.2,-0.3,-0.1,-0.2,-0.3,-0.1,-0.2,0.0,-0.1,-0.2,0.0,-0.1,-0.2],
[0.3,0.2,0.4,0.3,0.2,0.3,0.4,0.3,0.4,0.5,0.4,0.5,0.6,0.5,0.7,0.8,0.7,0.9,0.8,1.0,0.9,0.8,0.9,1.0],
[-0.2,-0.3,-0.1,-0.2,-0.3,-0.2,-0.1,-0.2,-0.3,-0.2,-0.4,-0.3,-0.2,-0.4,-0.3,-0.4,-0.5,-0.3,-0.4,-0.5,-0.4,-0.3,-0.5,-0.4],
[0.0,-0.1,0.0,0.1,0.0,-0.1,0.1,0.0,-0.1,0.1,0.2,0.1,0.2,0.1,0.3,0.2,0.1,0.2,0.3,0.2,0.1,0.2,0.1,0.2],
[-0.4,-0.5,-0.3,-0.4,-0.2,-0.3,-0.2,-0.4,-0.3,-0.1,-0.2,-0.1,-0.3,-0.2,-0.1,0.0,-0.1,0.1,0.0,-0.1,0.0,0.1,0.2,0.1],
[0.1,0.2,0.1,0.2,0.3,0.2,0.3,0.2,0.1,0.3,0.2,0.4,0.3,0.5,0.4,0.3,0.5,0.4,0.6,0.5,0.4,0.6,0.5,0.6],
[-0.2,-0.1,-0.3,-0.1,-0.2,-0.3,-0.2,-0.1,-0.2,-0.3,-0.1,-0.2,-0.3,-0.2,-0.1,-0.2,-0.3,-0.1,-0.2,-0.1,-0.3,-0.2,-0.1,-0.2],
[-0.5,-0.4,-0.5,-0.6,-0.4,-0.5,-0.6,-0.4,-0.5,-0.4,-0.6,-0.5,-0.4,-0.6,-0.7,-0.5,-0.6,-0.7,-0.5,-0.6,-0.8,-0.6,-0.7,-0.6],
[0.0,0.1,0.0,-0.1,0.0,0.1,0.2,0.1,0.0,0.1,0.0,0.1,0.3,0.2,0.1,0.3,0.2,0.4,0.3,0.2,0.4,0.3,0.2,0.3],
[-0.3,-0.2,-0.4,-0.3,-0.2,-0.4,-0.3,-0.2,-0.1,-0.2,-0.1,-0.3,-0.2,-0.1,-0.2,-0.1,0.0,-0.1,-0.2,0.0,-0.1,-0.2,-0.1,0.0],
[0.2,0.1,0.0,0.2,0.1,0.0,0.1,0.2,0.1,0.3,0.4,0.3,0.5,0.6,0.5,0.7,0.6,0.8,0.7,0.9,0.7,0.6,0.8,0.7],
[-0.1,-0.2,-0.1,-0.3,-0.2,-0.1,-0.2,-0.3,-0.1,-0.2,-0.1,0.0,-0.1,-0.3,-0.2,-0.4,-0.3,-0.2,-0.4,-0.3,-0.2,-0.3,-0.4,-0.3],
[-0.4,-0.3,-0.2,-0.3,-0.4,-0.2,-0.3,-0.2,-0.4,-0.3,-0.2,-0.3,-0.1,-0.2,-0.1,0.0,-0.1,-0.2,-0.1,0.1,0.0,-0.1,0.0,0.1],
[0.1,0.0,0.2,0.1,-0.1,0.0,0.1,0.0,0.2,0.1,0.0,0.2,0.1,0.3,0.2,0.1,0.3,0.5,0.4,0.6,0.5,0.7,0.6,0.5],
[-0.2,-0.4,-0.3,-0.2,-0.4,-0.3,-0.2,-0.4,-0.3,-0.2,-0.3,-0.4,-0.5,-0.3,-0.4,-0.5,-0.4,-0.6,-0.5,-0.4,-0.6,-0.5,-0.4,-0.5]
];

// ---------------- styling ----------------
const FONT = '"Liberation Sans", Arial, Helvetica, sans-serif';
const TEXT_COLOR = '#222';
const NCEP_COLOR = '#ff2400';
const QSCAT_COLOR = '#b4b4b4';

function series(lon, values){ return lon.map((x,i)=>({x:x, y:values[i]})); }

function buildDatasets(ncep, qscat, groups){
  const ds = [];
  ds.push({label:'Mean Quikscat', data:series(LONGITUDE, qscat), borderColor:QSCAT_COLOR, borderWidth:9,
           pointRadius:0, tension:0, borderJoinStyle:'round', borderCapStyle:'butt'});
  ds.push({label:'Mean NCEP', data:series(LONGITUDE, ncep), borderColor:NCEP_COLOR, borderWidth:9,
           pointRadius:0, tension:0, borderJoinStyle:'round', borderCapStyle:'butt'});
  groups.forEach(g=>g.lines.forEach(v=>{
    ds.push({label:'All Quikscat', data:series(g.lon, v), borderColor:'#000', borderWidth:1.4,
             pointRadius:0, tension:0, borderJoinStyle:'miter'});
  }));
  return ds;
}

const inwardTicks = {
  id:'inwardTicks',
  afterDraw(chart){
    const {ctx, chartArea:a, scales} = chart;
    const x = scales.x, y = scales.y;
    ctx.save();
    ctx.strokeStyle = '#000'; ctx.lineWidth = 1;
    ctx.beginPath();
    x.ticks.forEach(t=>{ const px = Math.round(x.getPixelForValue(t.value))+0.5; ctx.moveTo(px, a.bottom); ctx.lineTo(px, a.bottom-6); });
    y.ticks.forEach(t=>{ const py = Math.round(y.getPixelForValue(t.value))+0.5; ctx.moveTo(a.left, py); ctx.lineTo(a.left+6, py); });
    ctx.stroke();
    ctx.restore();
  }
};

const panelNotes = {
  id:'panelNotes',
  afterDatasetsDraw(chart, args, opts){
    const {ctx, chartArea:a} = chart;
    ctx.save();
    ctx.font = '17.5px ' + FONT;
    ctx.fillStyle = TEXT_COLOR;
    ctx.textBaseline = 'alphabetic';
    ctx.textAlign = opts.align;
    const tx = opts.align === 'center' ? (a.left + a.right)/2 + opts.dx : a.left + opts.dx;
    opts.lines.forEach((t,i)=>ctx.fillText(t, tx, a.top + opts.dy + i*24));
    if (opts.legend) {
      const bx = a.left + 196, by = a.top + 7, bw = 198, bh = 77;
      ctx.fillStyle = '#fff';
      ctx.fillRect(bx, by, bw, bh);
      ctx.strokeStyle = '#000'; ctx.lineWidth = 1.3;
      ctx.strokeRect(bx+0.5, by+0.5, bw, bh);
      const labels = ['Mean NCEP','Mean Quikscat','All Quikscat'];
      labels.forEach((lab,i)=>{
        const d = chart.data.datasets.find(s=>s.label===lab);
        const yy = by + 15 + i*24;
        ctx.beginPath();
        ctx.strokeStyle = d.borderColor;
        ctx.lineWidth = d.borderWidth;
        ctx.lineCap = 'butt';
        ctx.moveTo(bx+12, yy); ctx.lineTo(bx+70, yy);
        ctx.stroke();
        ctx.fillStyle = TEXT_COLOR;
        ctx.textAlign = 'left';
        ctx.textBaseline = 'middle';
        ctx.fillText(lab, bx+75, yy+1);
      });
    }
    ctx.restore();
  }
};

function buildConfig(cfg){
  return {
    type:'line',
    data:{datasets: buildDatasets(cfg.ncep, cfg.qscat, cfg.groups)},
    plugins:[inwardTicks, panelNotes],
    options:{
      responsive:false, animation:false, events:[],
      layout:{padding:{left:cfg.padLeft, right:cfg.padRight, top:0, bottom:0}},
      plugins:{
        legend:{display:false}, tooltip:{enabled:false},
        title:{display:true, text:cfg.title, fullSize:false, color:TEXT_COLOR,
               font:{family:FONT, size:28, weight:'normal'}, padding:{top:4, bottom:8.4}},
        panelNotes:{lines:cfg.notes, align:cfg.noteAlign, dx:cfg.noteDx, dy:cfg.noteDy, legend:cfg.legend}
      },
      scales:{
        x:{type:'linear', min:185, max:230,
           afterBuildTicks:s=>{ s.ticks = X_TICKS.map(v=>({value:v})); },
           afterFit:s=>{ s.height = 53; },
           grid:{drawOnChartArea:false, drawTicks:false},
           border:{display:true, color:'#000', width:1.3},
           ticks:{color:TEXT_COLOR, font:{family:FONT, size:16}, padding:7, autoSkip:false, maxRotation:0},
           title:{display:true, text:'Longitude', color:TEXT_COLOR, font:{family:FONT, size:24}, padding:{top:0, bottom:2}}
        },
        y:{type:'linear', min:cfg.yMin, max:cfg.yMax,
           afterBuildTicks:s=>{ s.ticks = cfg.yTicks.map(v=>({value:v})); },
           afterFit:s=>{ s.width = cfg.yWidth; },
           grid:{drawOnChartArea:false, drawTicks:false},
           border:{display:true, color:'#000', width:1.3},
           ticks:{color:TEXT_COLOR, font:{family:FONT, size:16}, padding:cfg.yTickPad, autoSkip:false},
           title:{display:true, text:'Windstress (Dynes/cm²)', color:TEXT_COLOR, font:{family:FONT, size:24}, padding:{top:10, bottom:0}}
        }
      }
    }
  };
}

new Chart(document.getElementById('cA'), buildConfig({
  title:'Windstress in X Direction',
  ncep:XDIR_NCEP_MEAN, qscat:XDIR_QSCAT_MEAN,
  groups:[{lon:LONGITUDE, lines:XDIR_QSCAT_CORE}, {lon:LONGITUDE_ODD, lines:XDIR_QSCAT_CORE_ODD},
          {lon:LONGITUDE, lines:XDIR_QSCAT_MID}, {lon:LONGITUDE, lines:XDIR_QSCAT_LOW},
          {lon:LONGITUDE, lines:XDIR_QSCAT_HIGH}],
  yMin:-2, yMax:7, yTicks:XDIR_Y_TICKS,
  padLeft:0, padRight:35, yWidth:74, yTickPad:7,
  notes:XDIR_NOTES, noteAlign:'left', noteDx:9, noteDy:15, legend:true
}));

new Chart(document.getElementById('cB'), buildConfig({
  title:'Windstress in Y Direction',
  ncep:YDIR_NCEP_MEAN, qscat:YDIR_QSCAT_MEAN,
  groups:[{lon:LONGITUDE, lines:YDIR_QSCAT_CORE}, {lon:LONGITUDE_ODD, lines:YDIR_QSCAT_CORE_ODD},
          {lon:LONGITUDE, lines:YDIR_QSCAT_UPPER}, {lon:LONGITUDE, lines:YDIR_QSCAT_LOW},
          {lon:LONGITUDE, lines:YDIR_QSCAT_HIGH}],
  yMin:-3, yMax:4, yTicks:YDIR_Y_TICKS,
  padLeft:19, padRight:16, yWidth:73, yTickPad:8,
  notes:YDIR_NOTES, noteAlign:'center', noteDx:22, noteDy:17, legend:false
}));
</script>
</body></html>
